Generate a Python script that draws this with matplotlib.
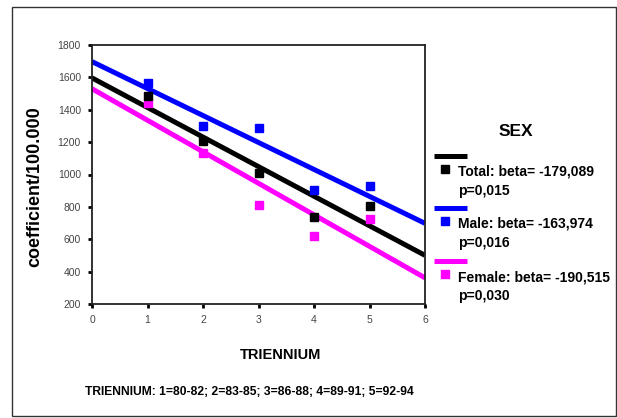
"""
Coefficient per 100.000 by triennium, with linear fits per sex
"""

import numpy as np
import matplotlib
matplotlib.use('Agg')
import matplotlib.pyplot as plt
from matplotlib.lines import Line2D
from matplotlib.patches import Rectangle

plt.rcParams['font.family'] = ['Liberation Sans', 'DejaVu Sans']

# data
triennium = [1, 2, 3, 4, 5]
total = [1483, 1207, 1012, 736, 805]
male = [1567, 1297, 1290, 904, 931]
female = [1441, 1134, 810, 617, 726]

series_names = ['Total', 'Male', 'Female']
series_values = [total, male, female]
series_colors = ['black', '#0000ff', '#ff00ff']
betas = ['-179,089', '-163,974', '-190,515']
pvals = ['0,015', '0,016', '0,030']

y_ticks = [200, 400, 600, 800, 1000, 1200, 1400, 1600, 1800]
x_ticks = [0, 1, 2, 3, 4, 5, 6]

fig = plt.figure(figsize=(6.17, 4.18), dpi=100)
ax = fig.add_axes([92 / 617, 1 - 304 / 418, 333 / 617, 259 / 418])

x_fit = np.array([0, 6])
# draw order: magenta, blue, black on top
for idx in [2, 1, 0]:
    vals = series_values[idx]
    col = series_colors[idx]
    slope, icpt = np.polyfit(triennium, vals, 1)
    ax.plot(x_fit, icpt + slope * x_fit, color=col, lw=3.6,
            solid_capstyle='butt', zorder=2, clip_on=True)
for idx in [2, 1, 0]:
    ax.plot(triennium, series_values[idx], 's', color=series_colors[idx],
            ms=5.5, zorder=3, clip_on=False)

ax.set_xlim(0, 6)
ax.set_ylim(200, 1800)
ax.set_xticks(x_ticks)
ax.set_yticks(y_ticks)
ax.tick_params(axis='both', labelsize=7.5, labelcolor='#444444',
               length=3, width=2, color='black', direction='out', pad=5)
for sp in ax.spines.values():
    sp.set_linewidth(1.3)
    sp.set_color('#222222')

fig.text(35 / 617, 1 - 187 / 418, 'coefficient/100.000', fontsize=13,
         fontweight='bold', rotation=90, ha='center', va='center')
fig.text(281 / 617, 1 - 355 / 418, 'TRIENNIUM', fontsize=10.5, fontweight='bold',
         ha='center', va='center')
fig.text(85 / 617, 1 - 392 / 418,
         'TRIENNIUM: 1=80-82; 2=83-85; 3=86-88; 4=89-91; 5=92-94',
         fontsize=8.75, fontweight='bold', ha='left', va='center')

# legend built by hand to match the original layout
fig.text(516 / 617, 1 - 131 / 418, 'SEX', fontsize=12.5, fontweight='bold',
         ha='center', va='center')
line_y = [156, 208, 261]
for i, ly in enumerate(line_y):
    fy = 1 - ly / 418
    fig.add_artist(Line2D([434 / 617, 467 / 617], [fy, fy], color=series_colors[i],
                          lw=3.6, solid_capstyle='butt', transform=fig.transFigure))
    fig.add_artist(Line2D([445 / 617], [1 - (ly + 13) / 418], marker='s', ls='',
                          color=series_colors[i], ms=5.5, transform=fig.transFigure))
    fig.text(458 / 617, 1 - (ly + 16) / 418,
             f'{series_names[i]}: beta= {betas[i]}',
             fontsize=10.0, fontweight='bold', ha='left', va='center')
    fig.text(458 / 617, 1 - (ly + 35) / 418, f'p={pvals[i]}',
             fontsize=10.0, fontweight='bold', ha='left', va='center')

# outer frame
fig.add_artist(Rectangle((12 / 617, 1 - 416 / 418), 604 / 617, 409 / 418,
                         fill=False, ec='#333333', lw=1.0,
                         transform=fig.transFigure))

plt.savefig('out.png', dpi=100)
plt.close()
